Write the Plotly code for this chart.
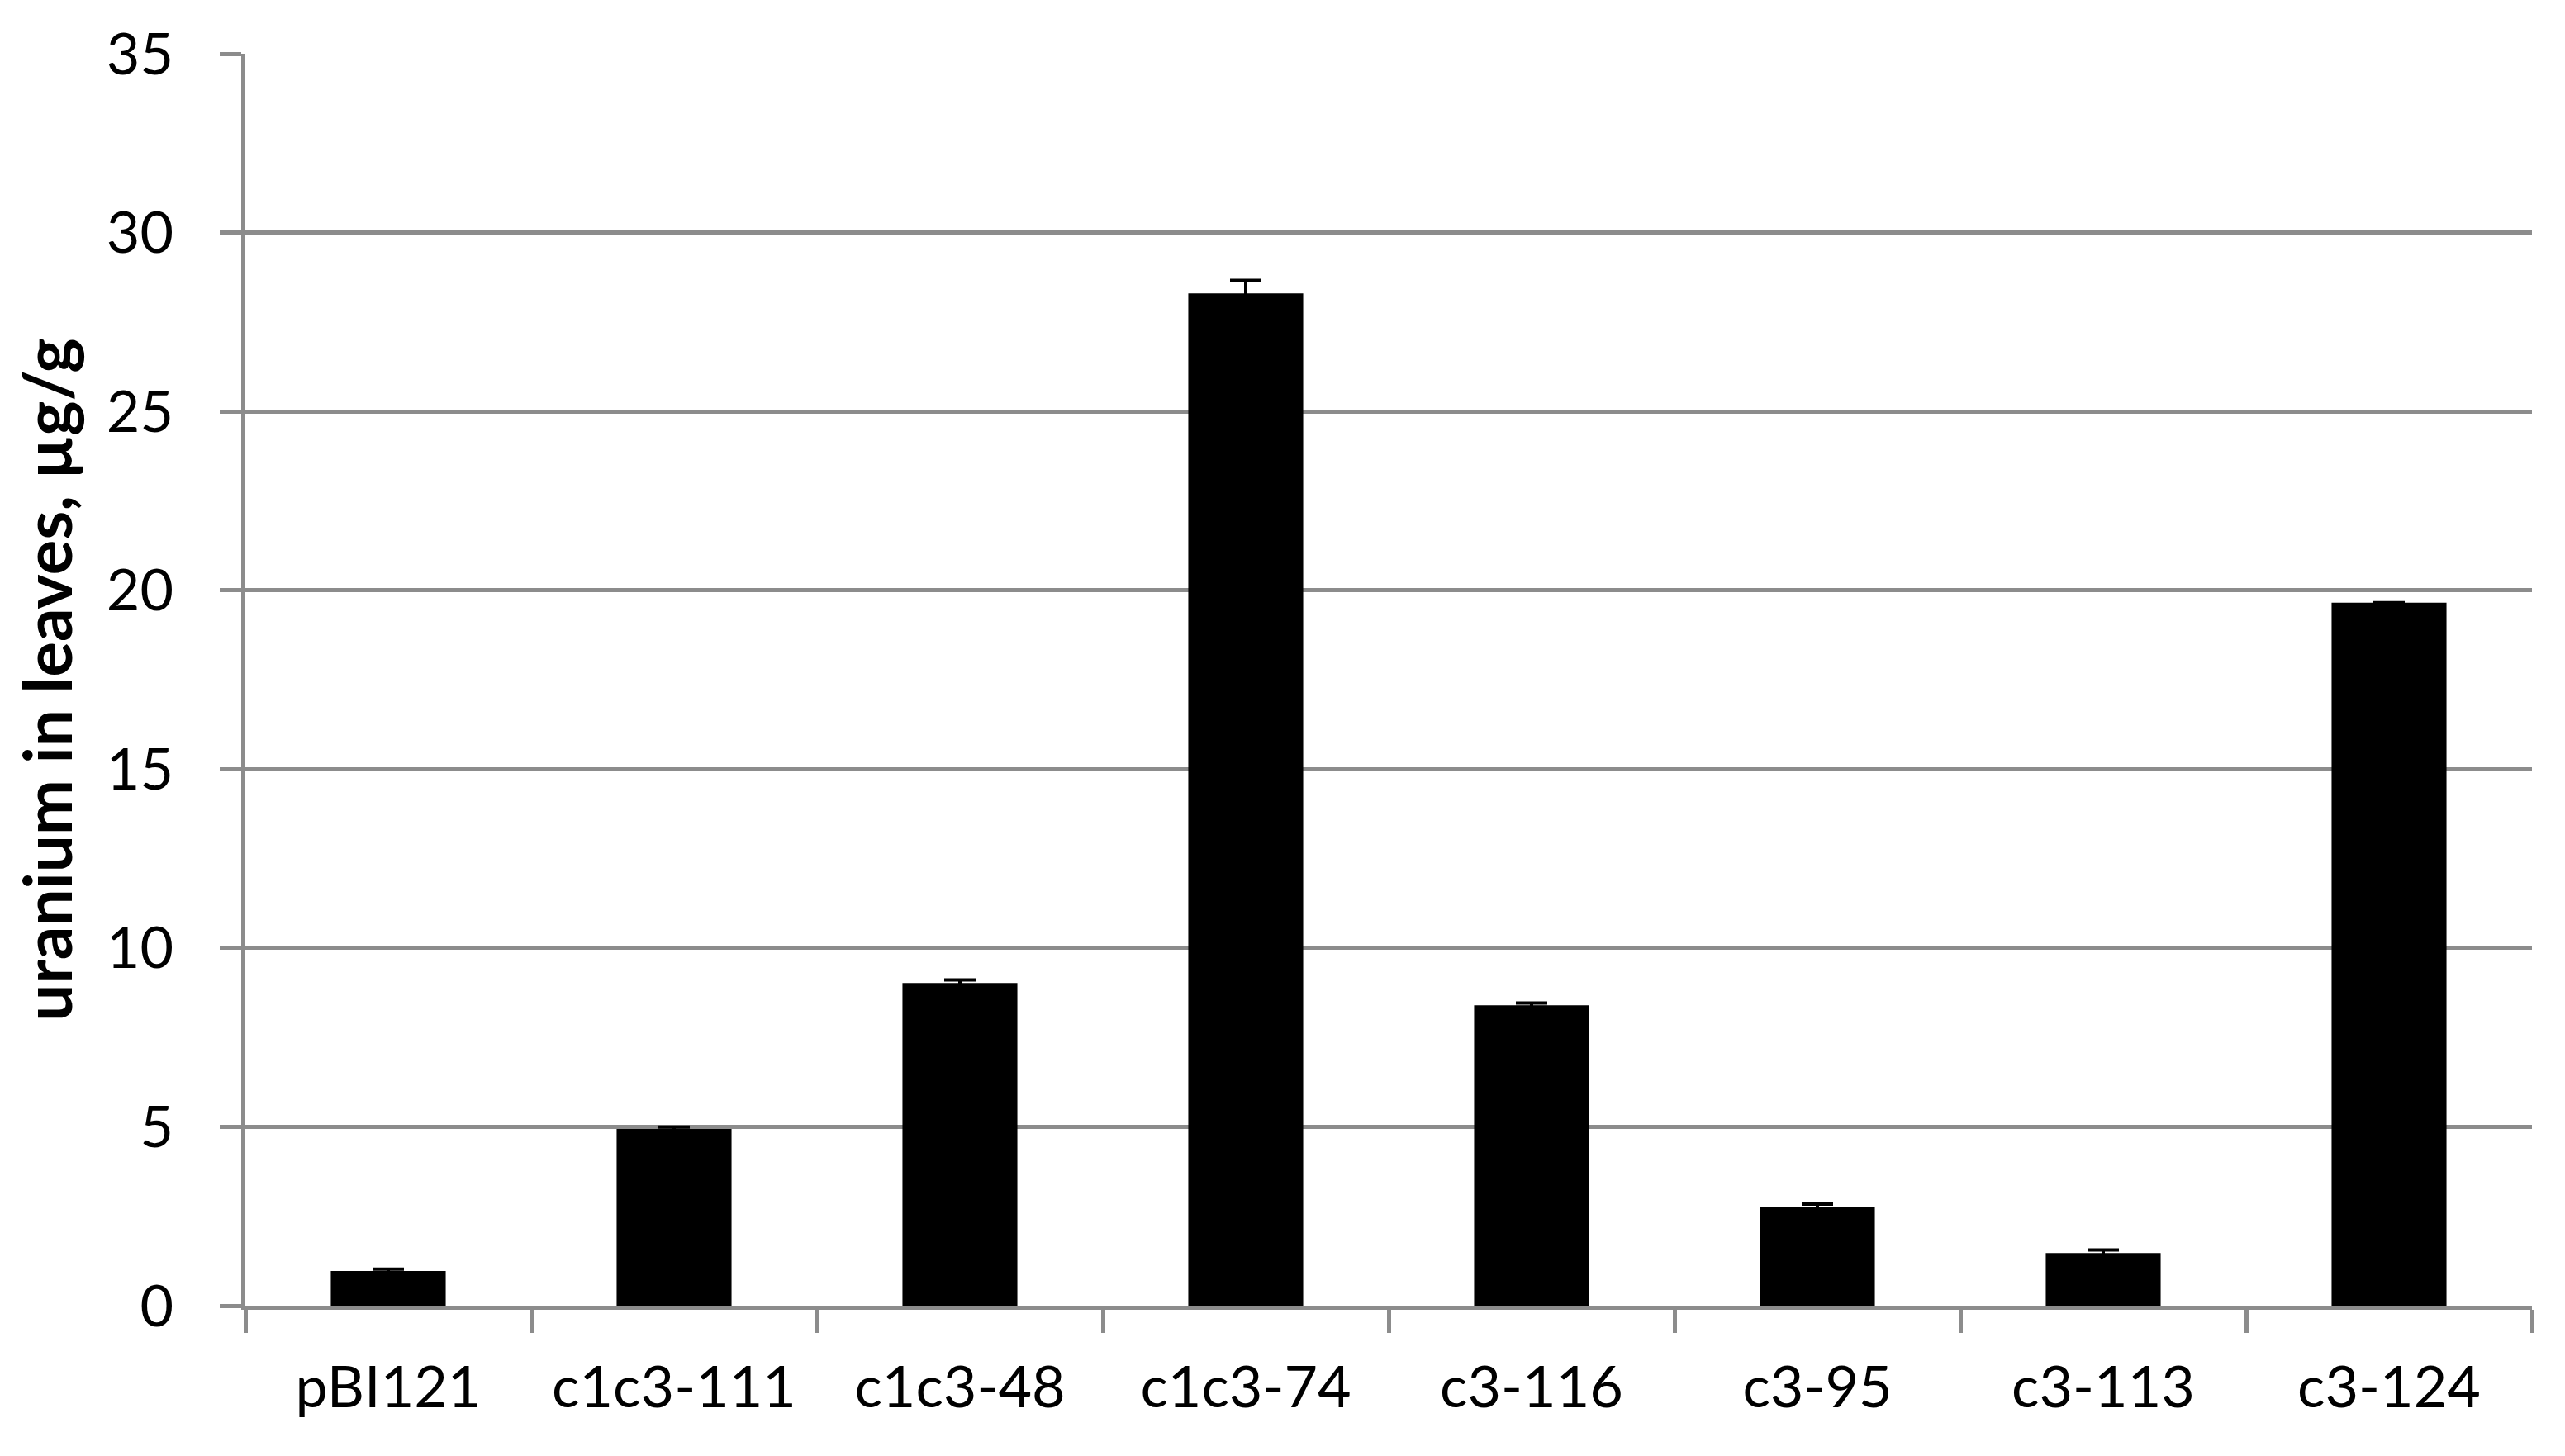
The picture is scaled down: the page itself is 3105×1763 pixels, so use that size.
import plotly.graph_objects as go

# lines tested, uranium content in leaves (ug/g)
LINES = ["pBI121", "c1c3-111", "c1c3-48", "c1c3-74", "c3-116", "c3-95", "c3-113", "c3-124"]
URANIUM = [0.97, 4.94, 9.02, 28.30, 8.40, 2.76, 1.47, 19.65]
URANIUM_ERR = [0.05, 0.05, 0.09, 0.36, 0.06, 0.08, 0.09, 0.0]

Y_TICKS = [0, 5, 10, 15, 20, 25, 30, 35]

GRID = "#8c8c8c"
FONT = "Lato"

fig = go.Figure(go.Bar(
    x=LINES, y=URANIUM,
    marker=dict(color="black", line=dict(width=0)),
    error_y=dict(type="data", array=URANIUM_ERR, visible=True,
                 color="black", thickness=4, width=19),
))

# the page body adds an 8px offset, so the figure is 16px smaller than the window
fig.update_layout(
    width=3089, height=1747,
    margin=dict(l=289, r=32, t=57, b=174, autoexpand=False),
    plot_bgcolor="white", paper_bgcolor="white",
    bargap=0.598, showlegend=False,
    font=dict(family=FONT, color="black", size=70),
)
fig.update_xaxes(
    showline=True, linecolor=GRID, linewidth=5,
    ticks="outside", tickson="boundaries", ticklen=28, tickwidth=5, tickcolor=GRID,
    ticklabelstandoff=34, showgrid=False,
    tickfont=dict(family=FONT, size=70, color="black"),
)
fig.update_yaxes(
    range=[0, 35], tickvals=Y_TICKS,
    showline=True, linecolor=GRID, linewidth=5,
    showgrid=True, gridcolor=GRID, gridwidth=5, zeroline=False,
    ticks="outside", ticklen=26, tickwidth=5, tickcolor=GRID,
    ticklabelstandoff=42,
    tickfont=dict(family=FONT, size=70, color="black"),
    title=dict(text="<b>uranium in leaves, µg/g</b>", standoff=34,
               font=dict(family=FONT, size=80, color="black")),
)

fig.write_html("out.html")
